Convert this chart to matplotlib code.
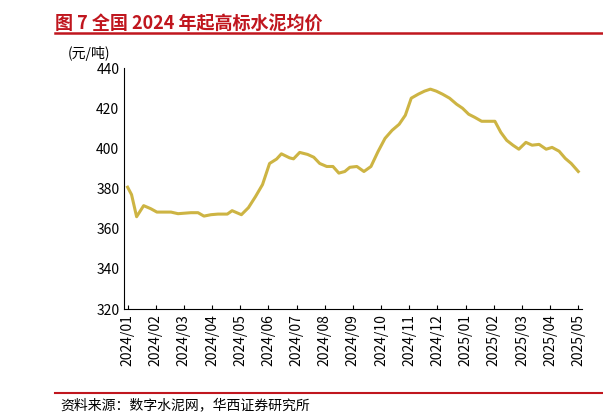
import matplotlib.pyplot as plt
import matplotlib.lines as mlines

plt.rcParams['font.family'] = ['Noto Sans CJK SC', 'DejaVu Sans']

# month position (0 = 2024/01) and price
month_pos = [0.0, 0.14, 0.32, 0.57, 0.82, 1.04, 1.54, 1.79, 2.25, 2.5, 2.71, 2.96,
             3.21, 3.54, 3.71, 4.04, 4.29, 4.54, 4.79, 5.04, 5.29, 5.46, 5.75, 5.89,
             6.11, 6.39, 6.61, 6.82, 7.07, 7.29, 7.5, 7.71, 7.89, 8.14, 8.39, 8.64,
             8.89, 9.14, 9.39, 9.64, 9.86, 10.07, 10.32, 10.54, 10.75, 10.96, 11.18,
             11.43, 11.68, 11.89, 12.11, 12.32, 12.57, 12.82, 13.04, 13.25, 13.46,
             13.68, 13.89, 14.14, 14.36, 14.61, 14.86, 15.07, 15.32, 15.54, 15.75, 16.0]
price = [380.7, 377, 366, 371.5, 370, 368.3, 368.3, 367.5, 368, 368, 366.3, 367,
         367.3, 367.3, 369, 367, 370.5, 376, 382, 392.5, 394.7, 397.3, 395.3, 394.8,
         398, 397, 395.6, 392.5, 391, 391, 387.7, 388.5, 390.6, 391, 388.5, 391,
         398.4, 405, 409, 412, 416.5, 425, 427, 428.5, 429.5, 428.5, 427, 425,
         422, 420, 417, 415.5, 413.5, 413.5, 413.5, 408, 404, 401.6, 399.6, 403,
         401.6, 402, 399.6, 400.5, 398.6, 395, 392.5, 388.5]
tick_labels = ['2024/01', '2024/02', '2024/03', '2024/04', '2024/05', '2024/06',
               '2024/07', '2024/08', '2024/09', '2024/10', '2024/11', '2024/12',
               '2025/01', '2025/02', '2025/03', '2025/04', '2025/05']

red = '#C0161E'
fig = plt.figure(figsize=(6.03, 4.2), dpi=100)
ax = fig.add_axes([0.206, 0.264, 0.76, 0.574])
ax.plot(month_pos, price, color='#CDB443', lw=2.2)
ax.set_ylim(320, 440)
ax.set_yticks(range(320, 441, 20))
ax.set_xlim(-0.12, 16.15)
ax.set_xticks(range(len(tick_labels)))
ax.set_xticklabels(tick_labels, rotation=90, fontsize=10)
ax.tick_params(axis='y', labelsize=10, length=0)
ax.tick_params(axis='x', length=3, direction='in')
for s in ['top', 'right']:
    ax.spines[s].set_visible(False)
ax.text(-0.03, 1.04, '(元/吨)', transform=ax.transAxes, ha='right', fontsize=10)

fig.text(0.092, 0.945, '图 7 全国 2024 年起高标水泥均价', color=red, fontsize=13,
         fontweight='bold', va='center')
fig.add_artist(mlines.Line2D([0.092, 1.0], [0.922, 0.922], color=red, lw=1.8))
fig.add_artist(mlines.Line2D([0.092, 1.0], [0.064, 0.064], color=red, lw=1.5))
fig.text(0.1, 0.035, '资料来源：数字水泥网，华西证券研究所', fontsize=10, va='center')

fig.savefig('out.png', dpi=100)
